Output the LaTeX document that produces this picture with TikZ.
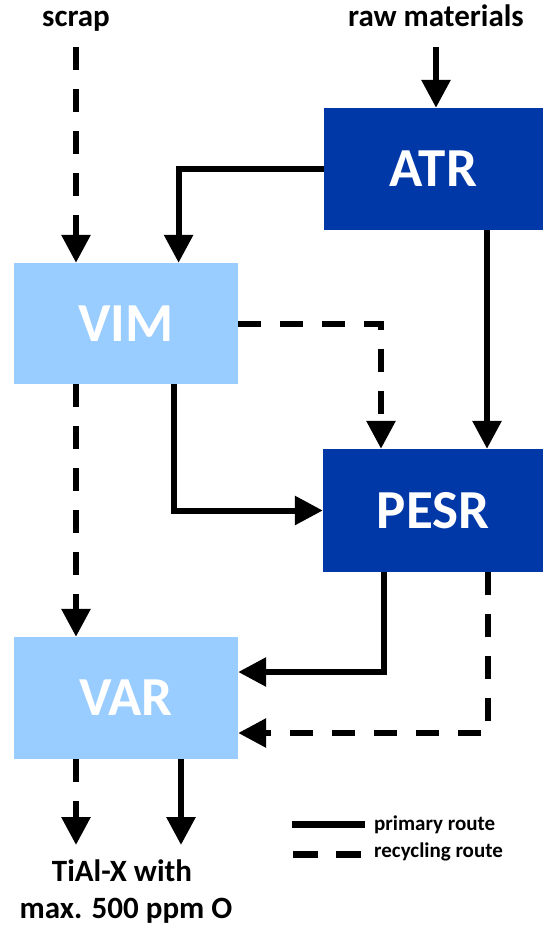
\documentclass[tikz,border=0pt]{standalone}
\usepackage{fontspec}
\setmainfont{Carlito}
\usetikzlibrary{arrows.meta}
\definecolor{darkbox}{RGB}{0,56,168}
\definecolor{lightbox}{RGB}{153,204,255}
\begin{document}
\begin{tikzpicture}[x=1pt,y=-1pt,
  proc/.style={inner sep=0pt, text=white, font=\fontsize{55}{60}\selectfont\bfseries},
  darkproc/.style={proc, fill=darkbox},
  lightproc/.style={proc, fill=lightbox},
  flow/.style={line width=6pt, -{Triangle[width=28pt,length=28pt]}},
  recyc/.style={flow, dash pattern=on 23pt off 19pt},
  lbl/.style={inner sep=0pt, font=\fontsize{31}{36}\selectfont\bfseries},
  legtext/.style={inner sep=0pt, anchor=base west, font=\fontsize{21}{25}\selectfont\bfseries}]
\useasboundingbox (0,0) rectangle (547,926);
% boxes
\node[darkproc, minimum width=219pt, minimum height=122pt] (atr) at (433.5,169) {ATR};
\node[lightproc, minimum width=224pt, minimum height=121pt] (vim) at (126,323.5) {VIM};
\node[darkproc, minimum width=220pt, minimum height=123pt] (pesr) at (433,510.5) {PESR};
\node[lightproc, minimum width=224pt, minimum height=122pt] (var) at (126,698) {VAR};
% input labels
\node[lbl, anchor=base] (scrap) at (76,27) {scrap};
\node[lbl, anchor=base] (raw) at (436,27) {raw materials};
\coordinate (scrapS) at (76,47);
\coordinate (rawS) at (436,47);
% output labels
\node[lbl, anchor=base] (out) at (122,881.7) {TiAl-X with};
\node[lbl, anchor=base] (out2) at (126,918) {max. 500 ppm O};
\coordinate (outA) at (76,845);
\coordinate (outB) at (181,845);
% connectors
\draw[recyc] (scrapS) -- (scrapS |- vim.north);
\draw[flow] (rawS) -- (rawS |- atr.north);
\draw[flow] (atr.west) -| (178.6,0 |- vim.north);
\draw[flow] (487,0 |- atr.south) -- (487,0 |- pesr.north);
\draw[recyc] (vim.east) -| (381,0 |- pesr.north);
\draw[flow] (174,0 |- vim.south) |- (pesr.west);
\draw[recyc] (76,0 |- vim.south) -- (76,0 |- var.north);
\draw[flow] (384,0 |- pesr.south) |- (var.east |- 0,672);
\draw[recyc] (488,0 |- pesr.south) |- (var.east |- 0,733);
\draw[recyc] (76,0 |- var.south) -- (outA);
\draw[flow] (181,0 |- var.south) -- (outB);
% legend
\coordinate (l1a) at (292,824.5);
\coordinate (l1b) at (365,824.5);
\coordinate (l2a) at (293,854);
\coordinate (l2b) at (361,854);
\draw[line width=7pt] (l1a) -- (l1b);
\draw[line width=7pt, dash pattern=on 25pt off 18pt] (l2a) -- (l2b);
\node[legtext] (lp) at (374,830) {primary route};
\node[legtext] (lr) at (374,857.5) {recycling route};
\end{tikzpicture}
\end{document}
